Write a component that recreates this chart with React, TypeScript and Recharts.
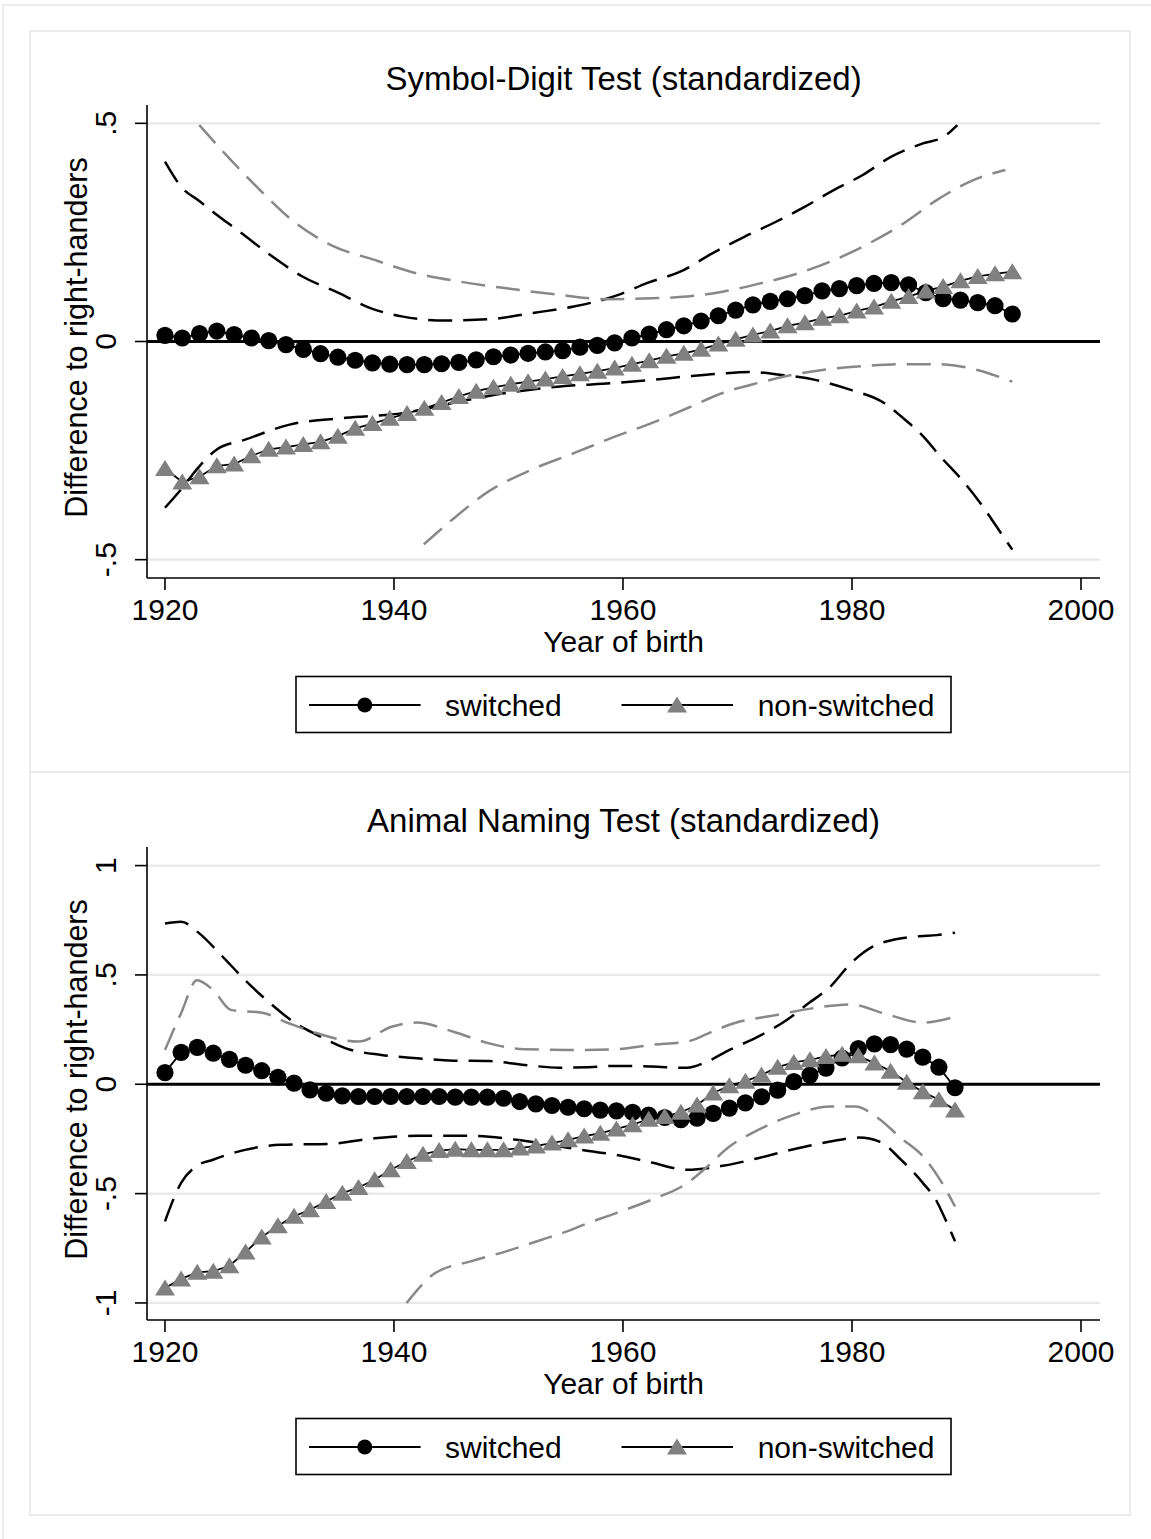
import React from "react"
import { LineChart, Line, XAxis, YAxis, ReferenceLine } from "recharts"

const FONT = '"Liberation Sans", Arial, Helvetica, sans-serif'
const GRAY_MARK = "#808080"
const GRAY_DASH = "#888888"
const GRID = "#e8e8e8"
const FRAME = "#ebebeb"

const X_TICKS = [1920, 1940, 1960, 1980, 2000]
const Y_TICKS_1 = [-0.5, 0, 0.5]
const Y_TICKS_2 = [-1, -0.5, 0, 0.5, 1]

// --- Symbol-Digit Test: 50 smoothing grid points, 1920–1994 ---
const YEARS_1 = [
    1920.0, 1921.51, 1923.02, 1924.53, 1926.04, 1927.55, 1929.06, 1930.57, 1932.08, 1933.59,
    1935.1, 1936.61, 1938.12, 1939.63, 1941.14, 1942.65, 1944.16, 1945.67, 1947.18, 1948.69,
    1950.2, 1951.71, 1953.22, 1954.73, 1956.24, 1957.76, 1959.27, 1960.78, 1962.29, 1963.8,
    1965.31, 1966.82, 1968.33, 1969.84, 1971.35, 1972.86, 1974.37, 1975.88, 1977.39, 1978.9,
    1980.41, 1981.92, 1983.43, 1984.94, 1986.45, 1987.96, 1989.47, 1990.98, 1992.49, 1994.0,
]
const SWITCHED_1 = [
    0.014, 0.008, 0.018, 0.024, 0.016, 0.008, 0.002, -0.007, -0.018, -0.028,
    -0.036, -0.043, -0.049, -0.052, -0.053, -0.053, -0.051, -0.048, -0.042, -0.035,
    -0.031, -0.027, -0.024, -0.021, -0.013, -0.009, -0.003, 0.008, 0.017, 0.027,
    0.036, 0.047, 0.059, 0.072, 0.084, 0.092, 0.098, 0.105, 0.116, 0.121,
    0.128, 0.133, 0.135, 0.130, 0.112, 0.098, 0.095, 0.089, 0.082, 0.063,
]
const NONSWITCHED_1 = [
    -0.291, -0.322, -0.310, -0.285, -0.281, -0.262, -0.247, -0.242, -0.236, -0.230,
    -0.217, -0.199, -0.188, -0.176, -0.165, -0.153, -0.140, -0.126, -0.114, -0.105,
    -0.098, -0.092, -0.086, -0.080, -0.074, -0.068, -0.061, -0.052, -0.044, -0.034,
    -0.027, -0.018, -0.006, 0.005, 0.015, 0.024, 0.036, 0.043, 0.053, 0.059,
    0.070, 0.079, 0.092, 0.103, 0.116, 0.126, 0.139, 0.149, 0.155, 0.160,
]
// confidence bands as [year, value]
const SWITCHED_HI_1 = [
    [1920, 0.412], [1921.5, 0.352], [1923, 0.322], [1924.2, 0.297], [1926.7, 0.248], [1929.2, 0.198],
    [1932, 0.149], [1935.2, 0.111], [1938, 0.076], [1940.8, 0.057], [1944.5, 0.048], [1948.3, 0.051],
    [1952, 0.065], [1955.7, 0.080], [1959.4, 0.105], [1962.2, 0.135], [1965, 0.160], [1967.8, 0.202],
    [1970.6, 0.240], [1973.1, 0.271], [1975.9, 0.309], [1978.4, 0.347], [1980.9, 0.381], [1983.4, 0.423],
    [1986.2, 0.454], [1988, 0.469], [1989.2, 0.496],
]
const SWITCHED_LO_1 = [
    [1920, -0.381], [1921.4, -0.339], [1923, -0.286], [1924.5, -0.248], [1927, -0.225], [1930.8, -0.191],
    [1935.8, -0.175], [1940.8, -0.164], [1945.1, -0.141], [1949.8, -0.118], [1954.5, -0.103], [1959.4, -0.095],
    [1962.5, -0.088], [1965.6, -0.080], [1968.7, -0.073], [1971.2, -0.070], [1973.7, -0.076], [1976.8, -0.088],
    [1979.9, -0.111], [1982.8, -0.141], [1984.3, -0.172], [1986.2, -0.217], [1987.7, -0.263], [1989.6, -0.317],
    [1991.2, -0.370], [1992.8, -0.431], [1994, -0.477],
]
const NONSWITCHED_HI_1 = [
    [1923, 0.496], [1925.5, 0.423], [1928.3, 0.347], [1931.1, 0.278], [1934.5, 0.221], [1938.3, 0.187],
    [1942, 0.156], [1945.8, 0.137], [1949.8, 0.122], [1954.5, 0.107], [1958.5, 0.097], [1962.5, 0.099],
    [1965.6, 0.103], [1968.7, 0.114], [1971.8, 0.132], [1974.9, 0.153], [1978.1, 0.183], [1981.2, 0.221],
    [1984.3, 0.267], [1987.4, 0.324], [1990.6, 0.370], [1993.4, 0.393],
]
const NONSWITCHED_LO_1 = [
    [1942.6, -0.465], [1945.1, -0.408], [1948.3, -0.343], [1952, -0.294], [1955.7, -0.256], [1959.4, -0.217],
    [1962.5, -0.187], [1965.6, -0.153], [1968.7, -0.118], [1971.8, -0.095], [1974.9, -0.076], [1978.1, -0.063],
    [1981.2, -0.056], [1984.3, -0.052], [1987.4, -0.052], [1990.6, -0.063], [1994, -0.092],
]

// --- Animal Naming Test: 50 smoothing grid points, 1920–1989 ---
const YEARS_2 = [
    1920.0, 1921.41, 1922.82, 1924.22, 1925.63, 1927.04, 1928.45, 1929.86, 1931.27, 1932.67,
    1934.08, 1935.49, 1936.9, 1938.31, 1939.71, 1941.12, 1942.53, 1943.94, 1945.35, 1946.76,
    1948.16, 1949.57, 1950.98, 1952.39, 1953.8, 1955.2, 1956.61, 1958.02, 1959.43, 1960.84,
    1962.24, 1963.65, 1965.06, 1966.47, 1967.88, 1969.29, 1970.69, 1972.1, 1973.51, 1974.92,
    1976.33, 1977.73, 1979.14, 1980.55, 1981.96, 1983.37, 1984.78, 1986.18, 1987.59, 1989.0,
]
const SWITCHED_2 = [
    0.053, 0.146, 0.169, 0.142, 0.114, 0.087, 0.062, 0.032, 0.005, -0.026,
    -0.041, -0.053, -0.056, -0.056, -0.056, -0.056, -0.056, -0.056, -0.059, -0.059,
    -0.059, -0.064, -0.079, -0.090, -0.097, -0.105, -0.112, -0.118, -0.122, -0.128,
    -0.141, -0.152, -0.162, -0.155, -0.133, -0.109, -0.085, -0.057, -0.027, 0.012,
    0.042, 0.074, 0.120, 0.163, 0.185, 0.181, 0.161, 0.124, 0.078, -0.016,
]
const NONSWITCHED_2 = [
    -0.932, -0.890, -0.860, -0.855, -0.830, -0.767, -0.699, -0.647, -0.604, -0.574,
    -0.536, -0.498, -0.472, -0.437, -0.391, -0.353, -0.320, -0.303, -0.297, -0.300,
    -0.300, -0.300, -0.292, -0.282, -0.269, -0.254, -0.237, -0.224, -0.204, -0.185,
    -0.160, -0.147, -0.128, -0.095, -0.040, -0.007, 0.014, 0.042, 0.078, 0.100,
    0.112, 0.127, 0.137, 0.130, 0.097, 0.060, 0.009, -0.034, -0.071, -0.118,
]
const SWITCHED_HI_2 = [
    [1920, 0.735], [1921.4, 0.743], [1923, 0.690], [1924.9, 0.591], [1927, 0.476], [1929.2, 0.370],
    [1931.4, 0.279], [1933.3, 0.225], [1935.8, 0.164], [1938.9, 0.134], [1942, 0.119], [1945.2, 0.108],
    [1948.3, 0.106], [1951.4, 0.088], [1954.5, 0.076], [1957, 0.078], [1959.4, 0.084], [1962.5, 0.081],
    [1965.6, 0.075], [1967.2, 0.100], [1969.3, 0.157], [1971.8, 0.218], [1974.3, 0.294], [1976.2, 0.370],
    [1978.1, 0.446], [1979.9, 0.553], [1981.8, 0.629], [1983.7, 0.662], [1985.9, 0.677], [1987.4, 0.682],
    [1989, 0.693],
]
const SWITCHED_LO_2 = [
    [1920, -0.627], [1921.4, -0.452], [1922.7, -0.376], [1924.2, -0.345], [1927, -0.300], [1930.1, -0.277],
    [1934.5, -0.272], [1938.3, -0.247], [1942, -0.236], [1946.7, -0.236], [1950.7, -0.254], [1954.5, -0.285],
    [1957, -0.305], [1959.4, -0.323], [1962.5, -0.358], [1965.6, -0.391], [1968.7, -0.373], [1971.8, -0.338],
    [1974.9, -0.297], [1978.1, -0.262], [1980.6, -0.244], [1982.4, -0.262], [1984.3, -0.346], [1986.2, -0.452],
    [1987.4, -0.535], [1988, -0.600], [1989, -0.718],
]
const NONSWITCHED_HI_2 = [
    [1920, 0.157], [1921.4, 0.324], [1922.8, 0.476], [1924.2, 0.431], [1925.8, 0.339], [1928.5, 0.327],
    [1930.8, 0.279], [1933.3, 0.233], [1936.9, 0.195], [1939.8, 0.263], [1942, 0.282], [1945.2, 0.240],
    [1948.3, 0.187], [1951.4, 0.160], [1956.1, 0.157], [1959.4, 0.160], [1962.5, 0.180], [1965.6, 0.195],
    [1968.1, 0.248], [1969.7, 0.279], [1973.4, 0.317], [1976.5, 0.347], [1979.9, 0.365], [1982.8, 0.324],
    [1986.2, 0.282], [1989, 0.309],
]
const NONSWITCHED_LO_2 = [
    [1941.1, -1.0], [1943.6, -0.863], [1946.7, -0.810], [1949.8, -0.764], [1952.9, -0.711], [1955.1, -0.673],
    [1956.2, -0.650], [1959.4, -0.589], [1962.5, -0.528], [1965.6, -0.452], [1967.2, -0.384], [1969.3, -0.285],
    [1971.8, -0.209], [1974.9, -0.140], [1978.1, -0.102], [1980.3, -0.102], [1982.1, -0.148], [1984.3, -0.247],
    [1986.2, -0.330], [1987.7, -0.437], [1989, -0.559],
]

const fmtTick = (v: number) => (v === 0 ? "0" : String(v).replace("0.", "."))

function CircleDot(props: any) {
    const { cx, cy, index } = props
    if (cx == null || cy == null) return <g key={`c${index}`} />
    return <circle key={`c${index}`} cx={cx} cy={cy} r={8.6} fill="#000" />
}

const triPoints = (cx: number, cy: number) =>
    `${cx},${cy - 8.5} ${cx + 10},${cy + 7.5} ${cx - 10},${cy + 7.5}`

function TriangleDot(props: any) {
    const { cx, cy, index } = props
    if (cx == null || cy == null) return <g key={`t${index}`} />
    return <polygon key={`t${index}`} points={triPoints(cx, cy)} fill={GRAY_MARK} />
}

function YTick(props: any) {
    const { x, y, payload } = props
    return (
        <text x={x} y={y} transform={`rotate(-90 ${x} ${y})`} textAnchor="middle"
            fontSize={30} fontFamily={FONT} fill="#000">
            {fmtTick(payload.value)}
        </text>
    )
}

const yTitle = (props: any) => {
    const vb = props.viewBox ?? { x: 0, y: 74, width: 118, height: 473 }
    const cx = vb.x + 58
    const cy = vb.y + vb.height / 2 - 4
    return (
        <text x={cx} y={cy} transform={`rotate(-90 ${cx} ${cy})`} textAnchor="middle"
            fontSize={30.5} fontFamily={FONT} fill="#000">
            Difference to right-handers
        </text>
    )
}

const xTitle = (props: any) => {
    const vb = props.viewBox ?? { x: 118, y: 547, width: 953, height: 195 }
    return (
        <text x={vb.x + vb.width / 2} y={vb.y + 74} textAnchor="middle"
            fontSize={30} fontFamily={FONT} fill="#000">
            Year of birth
        </text>
    )
}

const toPts = (xs: number[], ys: number[]) => xs.map((x, i) => ({ x, y: ys[i] }))
const pairPts = (pairs: number[][]) => pairs.map(([x, y]) => ({ x, y }))

interface PanelProps {
    top: number
    frameTop: number
    frameHeight: number
    title: string
    years: number[]
    sw: number[]
    ns: number[]
    swHi: number[][]
    swLo: number[][]
    nsHi: number[][]
    nsLo: number[][]
    yDomain: [number, number]
    yTicks: number[]
    grid: number[]
}

function Panel(p: PanelProps) {
    const W = 1101
    const H = 742
    const dash = { strokeDasharray: "24 11", strokeWidth: 2.5, dot: false, activeDot: false, isAnimationActive: false, type: "monotone" as const }
    return (
        <>
            <div style={{ position: "absolute", left: 29, top: p.frameTop, width: W + 1, height: p.frameHeight, border: `2px solid ${FRAME}`, boxSizing: "border-box" }} />
            <div style={{ position: "absolute", left: 29, top: p.top, width: W, height: H }}>
                <LineChart width={W} height={H} margin={{ top: 74, right: 30, bottom: 0, left: 0 }}>
                    <XAxis type="number" dataKey="x" domain={[1918.43, 2001.66]} ticks={X_TICKS} interval={0}
                        allowDataOverflow height={195} tickSize={12} tickMargin={9}
                        axisLine={{ stroke: "#000", strokeWidth: 1.6 }} tickLine={{ stroke: "#000", strokeWidth: 1.6 }}
                        tick={{ fontSize: 30, fill: "#000", fontFamily: FONT }} label={xTitle} />
                    <YAxis type="number" dataKey="y" domain={p.yDomain} ticks={p.yTicks} interval={0}
                        allowDataOverflow width={118} tickSize={12} tickMargin={19}
                        axisLine={{ stroke: "#000", strokeWidth: 1.6 }} tickLine={{ stroke: "#000", strokeWidth: 1.6 }}
                        tick={<YTick />} label={yTitle} />
                    {p.grid.map(g => (
                        <ReferenceLine key={g} y={g} stroke={GRID} strokeWidth={2.2} zIndex={-10} />
                    ))}
                    <ReferenceLine y={0} stroke="#000" strokeWidth={2.8} zIndex={-5} />

                    <Line data={toPts(p.years, p.sw)} dataKey="y" type="linear" stroke="#000" strokeWidth={1.8}
                        dot={CircleDot} activeDot={false} isAnimationActive={false} />
                    <Line data={toPts(p.years, p.ns)} dataKey="y" type="linear" stroke="#000" strokeWidth={1.8}
                        dot={TriangleDot} activeDot={false} isAnimationActive={false} />

                    <Line data={pairPts(p.swHi)} dataKey="y" stroke="#000" {...dash} />
                    <Line data={pairPts(p.swLo)} dataKey="y" stroke="#000" {...dash} />
                    <Line data={pairPts(p.nsHi)} dataKey="y" stroke={GRAY_DASH} {...dash} />
                    <Line data={pairPts(p.nsLo)} dataKey="y" stroke={GRAY_DASH} {...dash} />
                </LineChart>
            </div>
            {/* title and legend */}
            <svg width={W} height={H} style={{ position: "absolute", left: 29, top: p.top, pointerEvents: "none" }}>
                <text x={594.5} y={58.5} textAnchor="middle" fontSize={33} fontFamily={FONT} fill="#000">{p.title}</text>
                <rect x={267} y={645.5} width={655} height={56} fill="#fff" stroke="#000" strokeWidth={1.6} />
                <line x1={280} x2={391.6} y1={674} y2={674} stroke="#000" strokeWidth={2.2} />
                <circle cx={335.8} cy={674} r={7.5} fill="#000" />
                <text x={416} y={684.7} fontSize={30} fontFamily={FONT} fill="#000">switched</text>
                <line x1={592.5} x2={704} y1={674} y2={674} stroke="#000" strokeWidth={2.2} />
                <polygon points={triPoints(648, 674)} fill={GRAY_MARK} />
                <text x={728.7} y={684.7} fontSize={30} fontFamily={FONT} fill="#000">non-switched</text>
            </svg>
        </>
    )
}

export default function App() {
    return (
        <div style={{ position: "absolute", left: 0, top: 0, width: 1151, height: 1539, background: "#fff", overflow: "hidden" }}>
            <div style={{ position: "absolute", left: 2, top: 4, width: 1170, height: 1570, border: "2px solid #ededed" }} />
            <Panel top={31} frameTop={30} frameHeight={743} title="Symbol-Digit Test (standardized)"
                years={YEARS_1} sw={SWITCHED_1} ns={NONSWITCHED_1}
                swHi={SWITCHED_HI_1} swLo={SWITCHED_LO_1} nsHi={NONSWITCHED_HI_1} nsLo={NONSWITCHED_LO_1}
                yDomain={[-0.542, 0.542]} yTicks={Y_TICKS_1} grid={[-0.5, 0.5]} />
            <Panel top={773} frameTop={771} frameHeight={745} title="Animal Naming Test (standardized)"
                years={YEARS_2} sw={SWITCHED_2} ns={NONSWITCHED_2}
                swHi={SWITCHED_HI_2} swLo={SWITCHED_LO_2} nsHi={NONSWITCHED_HI_2} nsLo={NONSWITCHED_LO_2}
                yDomain={[-1.078, 1.085]} yTicks={Y_TICKS_2} grid={[-1, -0.5, 0.5, 1]} />
        </div>
    )
}
